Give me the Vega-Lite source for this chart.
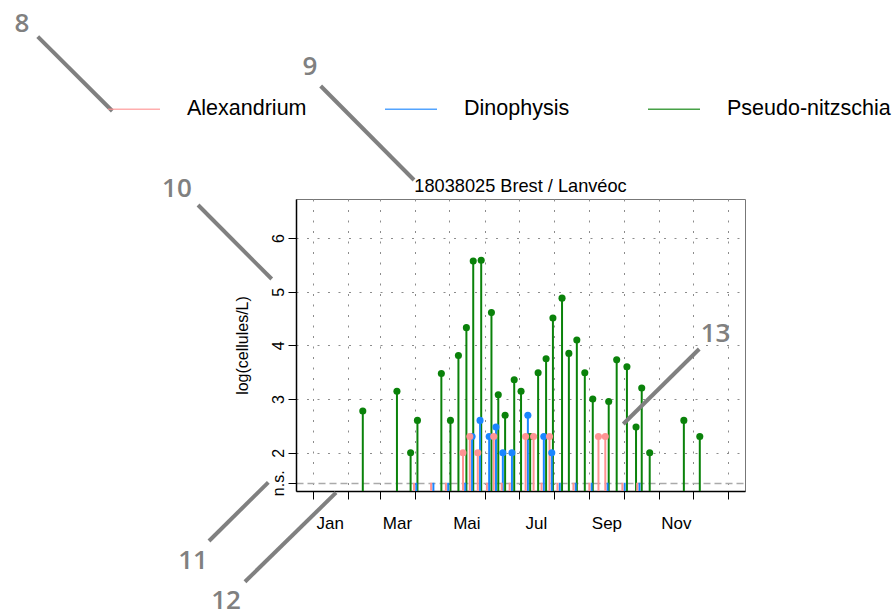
{
  "$schema": "https://vega.github.io/schema/vega-lite/v6.json",
  "width": 449,
  "height": 292,
  "autosize": {"type": "none"},
  "padding": {"left": 296, "top": 199, "right": 149, "bottom": 125},
  "background": "white",
  "title": {"text": "18038025 Brest / Lanvéoc", "font": "Liberation Sans", "fontSize": 18.2, "fontWeight": "normal", "color": "black", "anchor": "middle", "baseline": "alphabetic", "offset": 6, "dy": 205.5},
  "config": {
    "font": "Liberation Sans",
    "view": {"stroke": "#777777", "strokeWidth": 1},
    "axis": {"labelColor": "black", "titleColor": "black", "labelFont": "Liberation Sans", "titleFont": "Liberation Sans", "domainColor": "black", "tickColor": "black"}
  },
  "datasets": {
    "obs": [
      {"species": "Pseudo-nitzschia", "date": "2019-02-14", "log": 2.778, "result": "detected"},
      {"species": "Pseudo-nitzschia", "date": "2019-03-16", "log": 3.146, "result": "detected"},
      {"species": "Pseudo-nitzschia", "date": "2019-03-28", "log": 2.0, "result": "detected"},
      {"species": "Pseudo-nitzschia", "date": "2019-04-03", "log": 2.602, "result": "detected"},
      {"species": "Pseudo-nitzschia", "date": "2019-04-24", "log": 3.477, "result": "detected"},
      {"species": "Pseudo-nitzschia", "date": "2019-05-02", "log": 2.602, "result": "detected"},
      {"species": "Pseudo-nitzschia", "date": "2019-05-09", "log": 3.81, "result": "detected"},
      {"species": "Pseudo-nitzschia", "date": "2019-05-16", "log": 4.33, "result": "detected"},
      {"species": "Pseudo-nitzschia", "date": "2019-05-22", "log": 5.57, "result": "detected"},
      {"species": "Pseudo-nitzschia", "date": "2019-05-29", "log": 5.585, "result": "detected"},
      {"species": "Pseudo-nitzschia", "date": "2019-06-07", "log": 4.61, "result": "detected"},
      {"species": "Pseudo-nitzschia", "date": "2019-06-13", "log": 3.079, "result": "detected"},
      {"species": "Pseudo-nitzschia", "date": "2019-06-19", "log": 2.699, "result": "detected"},
      {"species": "Pseudo-nitzschia", "date": "2019-06-27", "log": 3.36, "result": "detected"},
      {"species": "Pseudo-nitzschia", "date": "2019-07-03", "log": 3.146, "result": "detected"},
      {"species": "Pseudo-nitzschia", "date": "2019-07-11", "log": 2.301, "result": "detected"},
      {"species": "Pseudo-nitzschia", "date": "2019-07-18", "log": 3.49, "result": "detected"},
      {"species": "Pseudo-nitzschia", "date": "2019-07-25", "log": 3.75, "result": "detected"},
      {"species": "Pseudo-nitzschia", "date": "2019-07-31", "log": 4.51, "result": "detected"},
      {"species": "Pseudo-nitzschia", "date": "2019-08-08", "log": 4.88, "result": "detected"},
      {"species": "Pseudo-nitzschia", "date": "2019-08-14", "log": 3.85, "result": "detected"},
      {"species": "Pseudo-nitzschia", "date": "2019-08-21", "log": 4.1, "result": "detected"},
      {"species": "Pseudo-nitzschia", "date": "2019-08-28", "log": 3.49, "result": "detected"},
      {"species": "Pseudo-nitzschia", "date": "2019-09-04", "log": 3.0, "result": "detected"},
      {"species": "Pseudo-nitzschia", "date": "2019-09-18", "log": 2.954, "result": "detected"},
      {"species": "Pseudo-nitzschia", "date": "2019-09-25", "log": 3.73, "result": "detected"},
      {"species": "Pseudo-nitzschia", "date": "2019-10-04", "log": 3.602, "result": "detected"},
      {"species": "Pseudo-nitzschia", "date": "2019-10-12", "log": 2.477, "result": "detected"},
      {"species": "Pseudo-nitzschia", "date": "2019-10-17", "log": 3.204, "result": "detected"},
      {"species": "Pseudo-nitzschia", "date": "2019-10-24", "log": 2.0, "result": "detected"},
      {"species": "Pseudo-nitzschia", "date": "2019-11-23", "log": 2.602, "result": "detected"},
      {"species": "Pseudo-nitzschia", "date": "2019-12-07", "log": 2.301, "result": "detected"},
      {"species": "Alexandrium", "date": "2019-05-13", "log": 2.0, "result": "detected"},
      {"species": "Alexandrium", "date": "2019-05-19", "log": 2.301, "result": "detected"},
      {"species": "Alexandrium", "date": "2019-05-26", "log": 2.0, "result": "detected"},
      {"species": "Alexandrium", "date": "2019-06-09", "log": 2.301, "result": "detected"},
      {"species": "Alexandrium", "date": "2019-07-07", "log": 2.301, "result": "detected"},
      {"species": "Alexandrium", "date": "2019-07-14", "log": 2.301, "result": "detected"},
      {"species": "Alexandrium", "date": "2019-07-28", "log": 2.301, "result": "detected"},
      {"species": "Alexandrium", "date": "2019-09-09", "log": 2.301, "result": "detected"},
      {"species": "Alexandrium", "date": "2019-09-15", "log": 2.301, "result": "detected"},
      {"species": "Alexandrium", "date": "2019-03-31", "log": 1.44, "result": "n.s."},
      {"species": "Alexandrium", "date": "2019-04-15", "log": 1.44, "result": "n.s."},
      {"species": "Alexandrium", "date": "2019-04-28", "log": 1.44, "result": "n.s."},
      {"species": "Alexandrium", "date": "2019-06-03", "log": 1.44, "result": "n.s."},
      {"species": "Alexandrium", "date": "2019-06-16", "log": 1.44, "result": "n.s."},
      {"species": "Alexandrium", "date": "2019-06-23", "log": 1.44, "result": "n.s."},
      {"species": "Alexandrium", "date": "2019-07-21", "log": 1.44, "result": "n.s."},
      {"species": "Alexandrium", "date": "2019-08-04", "log": 1.44, "result": "n.s."},
      {"species": "Alexandrium", "date": "2019-08-18", "log": 1.44, "result": "n.s."},
      {"species": "Alexandrium", "date": "2019-09-01", "log": 1.44, "result": "n.s."},
      {"species": "Alexandrium", "date": "2019-09-30", "log": 1.44, "result": "n.s."},
      {"species": "Alexandrium", "date": "2019-10-13", "log": 1.44, "result": "n.s."},
      {"species": "Dinophysis", "date": "2019-05-21", "log": 2.301, "result": "detected"},
      {"species": "Dinophysis", "date": "2019-05-28", "log": 2.602, "result": "detected"},
      {"species": "Dinophysis", "date": "2019-06-05", "log": 2.301, "result": "detected"},
      {"species": "Dinophysis", "date": "2019-06-11", "log": 2.477, "result": "detected"},
      {"species": "Dinophysis", "date": "2019-06-17", "log": 2.0, "result": "detected"},
      {"species": "Dinophysis", "date": "2019-06-25", "log": 2.0, "result": "detected"},
      {"species": "Dinophysis", "date": "2019-07-09", "log": 2.699, "result": "detected"},
      {"species": "Dinophysis", "date": "2019-07-23", "log": 2.301, "result": "detected"},
      {"species": "Dinophysis", "date": "2019-07-30", "log": 2.0, "result": "detected"},
      {"species": "Dinophysis", "date": "2019-04-02", "log": 1.44, "result": "n.s."},
      {"species": "Dinophysis", "date": "2019-04-17", "log": 1.44, "result": "n.s."},
      {"species": "Dinophysis", "date": "2019-04-30", "log": 1.44, "result": "n.s."},
      {"species": "Dinophysis", "date": "2019-05-15", "log": 1.44, "result": "n.s."},
      {"species": "Dinophysis", "date": "2019-08-06", "log": 1.44, "result": "n.s."},
      {"species": "Dinophysis", "date": "2019-08-20", "log": 1.44, "result": "n.s."},
      {"species": "Dinophysis", "date": "2019-09-03", "log": 1.44, "result": "n.s."},
      {"species": "Dinophysis", "date": "2019-09-17", "log": 1.44, "result": "n.s."},
      {"species": "Dinophysis", "date": "2019-10-02", "log": 1.44, "result": "n.s."},
      {"species": "Dinophysis", "date": "2019-10-15", "log": 1.44, "result": "n.s."}
    ],
    "callout_text": [
      {"label": "8", "x": "2018-04-20T17:00:00Z", "log": 9.993},
      {"label": "9", "x": "2018-12-29T15:00:00Z", "log": 9.187},
      {"label": "10", "x": "2018-09-03T19:00:00Z", "log": 6.913},
      {"label": "11", "x": "2018-09-17T22:00:00Z", "log": -0.018},
      {"label": "12", "x": "2018-10-16T22:00:00Z", "log": -0.763},
      {"label": "13", "x": "2019-12-20T19:00:00Z", "log": 4.212}
    ],
    "callout_line": [
      {"label": "8", "x": "2018-05-04T12:00:00Z", "log": 9.751, "x2": "2018-07-09T00:00:00Z", "log2": 8.367},
      {"label": "9", "x": "2019-01-08T00:00:00Z", "log": 8.832, "x2": "2019-03-31T00:00:00Z", "log2": 7.081},
      {"label": "10", "x": "2018-09-22T07:00:00Z", "log": 6.615, "x2": "2018-11-26T00:00:00Z", "log2": 5.236},
      {"label": "11", "x": "2018-10-01T22:00:00Z", "log": 0.355, "x2": "2018-11-23T00:00:00Z", "log2": 1.448},
      {"label": "12", "x": "2018-11-02T12:00:00Z", "log": -0.404, "x2": "2019-01-21T12:00:00Z", "log2": 1.255},
      {"label": "13", "x": "2019-09-30T19:00:00Z", "log": 2.535, "x2": "2019-12-06T12:00:00Z", "log2": 3.932}
    ]
  },
  "resolve": {"axis": {"x": "independent"}},
  "layer": [
    {
      "data": {"name": "obs"},
      "mark": {"type": "rule", "strokeWidth": 2},
      "encoding": {
        "x": {
          "field": "date", "type": "temporal",
          "scale": {"type": "utc", "domain": [{"year": 2018, "month": 12, "date": 17, "hours": 8, "utc": true}, {"year": 2020, "month": 1, "date": 15, "hours": 17, "utc": true}]},
          "axis": {
            "orient": "bottom", "title": null, "labels": false, "ticks": true, "tickSize": 8, "tickWidth": 1, "domain": true, "domainWidth": 1.5,
            "grid": true, "gridColor": "#8c8c8c", "gridDash": [2, 8.5], "gridWidth": 1,
            "values": [
              {"year": 2019, "month": 1, "date": 1, "utc": true}, {"year": 2019, "month": 2, "date": 1, "utc": true},
              {"year": 2019, "month": 3, "date": 1, "utc": true}, {"year": 2019, "month": 4, "date": 1, "utc": true},
              {"year": 2019, "month": 5, "date": 1, "utc": true}, {"year": 2019, "month": 6, "date": 1, "utc": true},
              {"year": 2019, "month": 7, "date": 1, "utc": true}, {"year": 2019, "month": 8, "date": 1, "utc": true},
              {"year": 2019, "month": 9, "date": 1, "utc": true}, {"year": 2019, "month": 10, "date": 1, "utc": true},
              {"year": 2019, "month": 11, "date": 1, "utc": true}, {"year": 2019, "month": 12, "date": 1, "utc": true},
              {"year": 2020, "month": 1, "date": 1, "utc": true}
            ]
          }
        },
        "y": {
          "field": "log", "type": "quantitative",
          "scale": {"domain": [1.2864, 6.727], "nice": false, "zero": false},
          "axis": {
            "title": "log(cellules/L)", "titleFontSize": 16, "titleFontWeight": "normal", "titlePadding": 20,
            "values": [1.44, 2, 3, 4, 5, 6], "format": ".0f",
            "labelExpr": "datum.value < 1.5 ? 'n.s.' : datum.label",
            "labelFontSize": 16, "labelAngle": 270, "labelAlign": "center", "labelBaseline": "alphabetic", "labelPadding": 5,
            "tickSize": 8, "domainWidth": 1.5,
            "grid": true,
            "gridDash": {"condition": {"test": "datum.value < 1.5", "value": [7, 4]}, "value": [2, 8.5]},
            "gridColor": {"condition": {"test": "datum.value < 1.5", "value": "#aaaaaa"}, "value": "#8c8c8c"},
            "gridWidth": {"condition": {"test": "datum.value < 1.5", "value": 1.5}, "value": 1}
          }
        },
        "y2": {"datum": 1.2864},
        "color": {
          "field": "species", "type": "nominal",
          "scale": {"domain": ["Alexandrium", "Dinophysis", "Pseudo-nitzschia"], "range": ["#ff9393", "#1a86ff", "#0a820a"]},
          "legend": {
            "orient": "none", "legendX": -189, "legendY": -117, "direction": "horizontal", "title": null,
            "symbolType": "stroke", "symbolSize": 2704, "symbolStrokeWidth": 1.5, "symbolOpacity": 0.75,
            "labelFontSize": 21.5, "labelFont": "Liberation Sans", "labelColor": "black", "labelOffset": 26, "labelLimit": 0, "columnPadding": 75, "padding": 0
          }
        },
        "order": {"field": "species", "type": "nominal", "sort": "descending"}
      }
    },
    {
      "data": {"name": "obs"},
      "transform": [{"filter": "datum.result === 'detected'"}],
      "mark": {"type": "point", "filled": true, "size": 50, "opacity": 1},
      "encoding": {
        "x": {
          "field": "date", "type": "temporal",
          "scale": {"type": "utc", "domain": [{"year": 2018, "month": 12, "date": 17, "hours": 8, "utc": true}, {"year": 2020, "month": 1, "date": 15, "hours": 17, "utc": true}]},
          "axis": {
            "orient": "bottom", "title": null, "ticks": false, "tickSize": 0, "domain": false, "grid": false,
            "labelFontSize": 17, "labelPadding": 24, "labelAlign": "center", "labelBaseline": "top",
            "labelExpr": "['Jan','Fév','Mar','Avr','Mai','Jun','Jul','Aoû','Sep','Oct','Nov','Déc'][utcmonth(datum.value)]",
            "values": [
              {"year": 2019, "month": 1, "date": 16, "utc": true}, {"year": 2019, "month": 3, "date": 16, "utc": true},
              {"year": 2019, "month": 5, "date": 16, "utc": true}, {"year": 2019, "month": 7, "date": 16, "utc": true},
              {"year": 2019, "month": 9, "date": 16, "utc": true}, {"year": 2019, "month": 11, "date": 16, "utc": true}
            ]
          }
        },
        "y": {
          "field": "log", "type": "quantitative",
          "scale": {"domain": [1.2864, 6.727], "nice": false, "zero": false},
          "axis": {
            "title": "log(cellules/L)", "titleFontSize": 16, "titleFontWeight": "normal", "titlePadding": 20,
            "values": [1.44, 2, 3, 4, 5, 6], "format": ".0f",
            "labelExpr": "datum.value < 1.5 ? 'n.s.' : datum.label",
            "labelFontSize": 16, "labelAngle": 270, "labelAlign": "center", "labelBaseline": "alphabetic", "labelPadding": 5,
            "tickSize": 8, "domainWidth": 1.5,
            "grid": true,
            "gridDash": {"condition": {"test": "datum.value < 1.5", "value": [7, 4]}, "value": [2, 8.5]},
            "gridColor": {"condition": {"test": "datum.value < 1.5", "value": "#aaaaaa"}, "value": "#8c8c8c"},
            "gridWidth": {"condition": {"test": "datum.value < 1.5", "value": 1.5}, "value": 1}
          }
        },
        "color": {"field": "species", "type": "nominal", "legend": null},
        "order": {"field": "species", "type": "nominal", "sort": "descending"}
      }
    },
    {
      "data": {"name": "callout_line"},
      "mark": {"type": "rule", "color": "#808080", "strokeWidth": 4, "strokeCap": "butt"},
      "encoding": {
        "x": {"field": "x", "type": "temporal", "axis": null, "scale": {"type": "utc", "domain": [{"year": 2018, "month": 12, "date": 17, "hours": 8, "utc": true}, {"year": 2020, "month": 1, "date": 15, "hours": 17, "utc": true}]}},
        "x2": {"field": "x2"},
        "y": {"field": "log", "type": "quantitative", "scale": {"domain": [1.2864, 6.727], "nice": false, "zero": false}, "title": "log(cellules/L)"},
        "y2": {"field": "log2"}
      }
    },
    {
      "data": {"name": "callout_text"},
      "mark": {"type": "text", "font": "Open Sans", "fontWeight": 600, "fontSize": 26, "color": "#808080", "align": "center", "baseline": "middle"},
      "encoding": {
        "x": {"field": "x", "type": "temporal", "axis": null, "scale": {"type": "utc", "domain": [{"year": 2018, "month": 12, "date": 17, "hours": 8, "utc": true}, {"year": 2020, "month": 1, "date": 15, "hours": 17, "utc": true}]}},
        "y": {"field": "log", "type": "quantitative", "scale": {"domain": [1.2864, 6.727], "nice": false, "zero": false}, "title": "log(cellules/L)"},
        "text": {"field": "label"}
      }
    }
  ]
}
